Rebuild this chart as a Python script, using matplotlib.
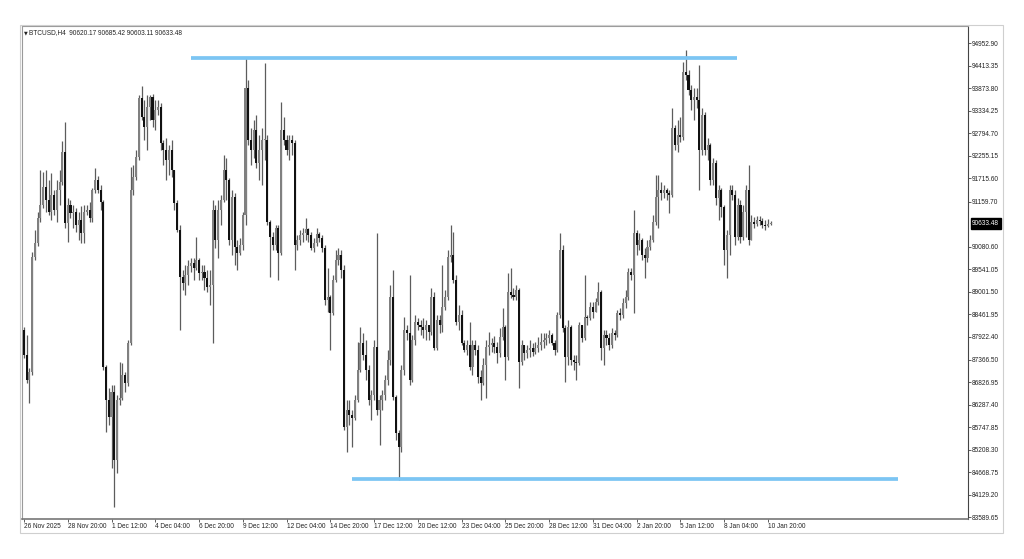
import matplotlib.pyplot as plt
from matplotlib.patches import Rectangle
import numpy as np

# BTCUSD H4 candles (open = previous close)
first_open = 88080
closes = [
    87480, 86880, 87070, 89830, 90170, 90770, 91080, 91510, 91200, 90910,
    91320, 90960, 91440, 91630, 92350, 90650, 91080, 90890, 90910, 90600,
    90720, 90410, 90910, 90960, 90770, 91440, 91680, 91440, 91150, 87190,
    86400, 85990, 86590, 84960, 86400, 86450, 87000, 86810, 87770, 91440,
    91750, 92230, 93650, 93190, 92950, 93430, 93670, 93120, 93360, 93430,
    92570, 92400, 92160, 92400, 91920, 91130, 90480, 89350, 89210, 89400,
    89620, 89690, 89570, 89760, 89450, 89470, 89330, 89110, 89160, 90960,
    90240, 90960, 91200, 91920, 91680, 90240, 91270, 90070, 89930, 90120,
    90840, 93890, 92640, 92400, 92880, 92090, 92400, 92640, 92640, 90670,
    90310, 90120, 90530, 89930, 92880, 92640, 92400, 92640, 92570, 90120,
    90240, 90360, 90410, 90500, 90360, 90050, 90170, 90380, 90290, 90050,
    88800, 88870, 88490, 89280, 89760, 89880, 89520, 85750, 86160, 86040,
    85970, 86400, 87120, 87770, 87480, 87120, 86400, 86520, 87670, 86160,
    86400, 86520, 86880, 87360, 88870, 86470, 85610, 85270, 87120, 88080,
    88010, 86880, 87840, 88270, 88200, 88150, 88080, 88200, 88030, 88870,
    87650, 88320, 88200, 88630, 88870, 89830, 89880, 89280, 88270, 88440,
    87770, 87600, 87720, 87190, 87720, 87600, 86950, 86810, 87240, 87670,
    87720, 87770, 87670, 87530, 87910, 88150, 87430, 88990, 88920, 88870,
    89040, 87310, 87720, 87530, 87600, 87650, 87550, 87650, 87720, 87790,
    87840, 87890, 87960, 87770, 87600, 88440, 90000, 88130, 87430, 88150,
    87360, 87310, 87290, 88200, 87890, 88390, 88370, 88630, 88510, 88750,
    88990, 87650, 87960, 87890, 87720, 88010, 87960, 88490, 88440, 88730,
    88870, 89470, 89400, 90410, 90120, 90240, 89880, 89810, 90070, 90240,
    90670, 91270, 91440, 91370, 91440, 91370, 91320, 92930, 92520, 92760,
    92710, 94270, 94200, 93840, 93600, 93670, 93600, 92400, 93240, 92400,
    92520, 91680, 92090, 91250, 91440, 91030, 90000, 90360, 91440, 91320,
    90310, 91080, 90310, 90910, 91440, 90240, 90670, 90620, 90720, 90700,
    90600, 90580, 90620.17, 90633.48,
]
highs = [
    88150, 87960, 87170, 89950, 90480, 90910, 91920, 91870, 91920, 91680,
    91850, 91440, 91680, 91920, 92620, 93070, 91250, 91200, 91080, 91010,
    90910, 91060, 91080, 91080, 91150, 91490, 91970, 91780, 91560, 91200,
    87240, 86690, 86760, 86760, 86520, 87310, 87290, 87070, 87840, 91990,
    92040, 92400, 93720, 93940, 93600, 93720, 93720, 93740, 93600, 93600,
    93530, 92640, 92690, 92520, 92640, 91920, 91200, 90600, 89520, 89640,
    89760, 89810, 89810, 90310, 89810, 89640, 89640, 89520, 89520, 91200,
    91080, 91200, 91320, 92280, 92210, 91730, 91440, 91370, 90240, 90290,
    90910, 94630, 94080, 92930, 93120, 93240, 92760, 92930, 94490, 92760,
    90720, 90430, 90600, 90600, 93550, 93190, 92760, 92760, 92760, 92640,
    90360, 90480, 90530, 90770, 90530, 90430, 90290, 90530, 90430, 90360,
    90120, 89570, 88920, 89400, 90000, 90050, 90000, 89640, 86400, 86400,
    86160, 86520, 87790, 88150, 88010, 87840, 87240, 86640, 87840, 90410,
    86520, 86640, 87000, 87600, 89160, 89520, 86520, 85680, 87240, 88390,
    88200, 89400, 87960, 88440, 88370, 88320, 88370, 88320, 88200, 89090,
    88990, 88440, 88440, 89640, 89040, 90000, 90600, 90430, 89400, 88680,
    88560, 87840, 87840, 88270, 87840, 87840, 87720, 87120, 87410, 87840,
    88030, 87890, 87940, 87790, 88130, 88610, 88200, 89450, 89570, 89090,
    89160, 89090, 87840, 87720, 87720, 87840, 87770, 87790, 87910, 88010,
    88010, 88010, 88080, 88010, 87840, 88510, 90410, 90120, 88200, 88320,
    88200, 87480, 87480, 88270, 88080, 89400, 88440, 88750, 88750, 88850,
    89230, 89040, 88080, 88080, 88010, 88130, 88080, 88560, 88610, 88850,
    89040, 89570, 89570, 90960, 90480, 90410, 90290, 90050, 90240, 90360,
    90840, 91800, 91800, 91630, 91560, 91490, 91440, 93410, 93000, 93120,
    93190, 94510, 94800, 94320, 93960, 93890, 93890, 94440, 93410, 93310,
    92690, 92570, 92210, 92160, 91560, 91490, 91080, 90480, 91560, 91560,
    91440, 91250, 91200, 91080, 91560, 92040, 90840, 90790, 90820, 90820,
    90770, 90720, 90740, 90685.42,
]
lows = [
    87410, 86810, 86330, 87000, 89760, 90100, 90670, 91010, 90910, 90840,
    90720, 90840, 90670, 91080, 91560, 90530, 90190, 90770, 90530, 90430,
    90240, 90170, 90170, 90840, 90670, 90670, 91370, 91370, 90960, 87120,
    85630, 85800, 84770, 83830, 84650, 86280, 86400, 86590, 86740, 87720,
    91320, 91680, 92160, 93120, 92640, 92400, 93120, 92950, 92880, 93240,
    92400, 92040, 91680, 91800, 91750, 90960, 90430, 88080, 89040, 88920,
    89160, 89470, 89280, 89520, 89280, 89280, 89040, 88990, 88680, 87770,
    90050, 89810, 90600, 91150, 91200, 90120, 89880, 89640, 89520, 89880,
    90000, 90600, 92520, 92040, 92210, 91970, 91680, 91560, 92160, 90600,
    89350, 90000, 90000, 89280, 89880, 92520, 92280, 92160, 92280, 89520,
    90000, 90120, 90190, 90240, 90190, 90000, 89950, 90100, 90190, 89950,
    88680, 88510, 87600, 88440, 89230, 89640, 89330, 85680, 85150, 85800,
    85270, 85920, 86350, 87070, 87360, 86880, 86280, 85920, 86400, 86040,
    85320, 86160, 86400, 86760, 87240, 86400, 85440, 84480, 85150, 87000,
    87840, 86760, 86830, 87720, 88080, 87960, 87890, 87840, 87840, 87960,
    87600, 87600, 88010, 88030, 88560, 88800, 89710, 89210, 88200, 88080,
    87720, 87550, 87480, 87120, 87000, 87480, 86810, 86400, 86760, 86450,
    87480, 87550, 87530, 87290, 87430, 87840, 86880, 87360, 88850, 88800,
    88800, 86690, 87240, 87360, 87410, 87430, 87460, 87500, 87550, 87600,
    87650, 87720, 87770, 87720, 87480, 87550, 88370, 88030, 86830, 87240,
    87240, 87120, 86880, 87240, 87790, 87840, 88200, 88320, 88370, 88560,
    88680, 87360, 87240, 87720, 87600, 87650, 87840, 87910, 88320, 88370,
    88610, 88800, 89280, 88490, 89880, 90000, 89760, 89330, 89710, 90000,
    90190, 90600, 90530, 91200, 91250, 91200, 90890, 91270, 92400, 92350,
    92590, 92640, 94080, 93720, 93360, 93120, 93410, 91440, 92280, 92280,
    92160, 91560, 91560, 91080, 90720, 90790, 89640, 89330, 89880, 91200,
    90120, 90240, 90170, 90240, 90310, 90120, 90430, 90530, 90580, 90600,
    90530, 90480, 90550, 90603.11,
]

x_tick_bars = [0, 16, 32, 48, 64, 80, 96, 112, 128, 144, 160, 176, 192, 208, 224, 240, 256, 272]
x_tick_labels = ["26 Nov 2025", "28 Nov 20:00", "1 Dec 12:00", "4 Dec 04:00", "6 Dec 20:00",
                 "9 Dec 12:00", "12 Dec 04:00", "14 Dec 20:00", "17 Dec 12:00", "20 Dec 12:00",
                 "23 Dec 04:00", "25 Dec 20:00", "28 Dec 12:00", "31 Dec 04:00", "2 Jan 20:00",
                 "5 Jan 12:00", "8 Jan 04:00", "10 Jan 20:00"]
price_labels = ["94952.90", "94413.35", "93873.80", "93334.25", "92794.70", "92255.15",
                "91715.60", "91159.70", "90080.60", "89541.05", "89001.50", "88461.95",
                "87922.40", "87366.50", "86826.95", "86287.40", "85747.85", "85208.30",
                "84668.75", "84129.20", "83589.65"]
last_price = 90633.48

# horizontal levels drawn on the chart: (price, first bar, last bar)
resistance = (94608, 61.1, 260.7)
support = (84500, 119.9, 319.6)

plt.rcParams['font.family'] = ['Liberation Sans', 'DejaVu Sans']

W, H = 1024, 559
fig = plt.figure(figsize=(W / 100, H / 100), dpi=100)
fig.patch.set_facecolor('white')


def fx(px):
    return px / W


def fy(py):
    return 1 - py / H


ax = fig.add_axes([fx(22), fy(519), fx(968) - fx(22), fy(26) - fy(519)])

o = np.array([first_open] + closes[:-1], dtype=float)
c = np.array(closes, dtype=float)
hi = np.maximum(np.array(highs, dtype=float), np.maximum(o, c))
lo = np.minimum(np.array(lows, dtype=float), np.minimum(o, c))
idx = np.arange(len(c))
up = c >= o

ax.vlines(idx, lo, hi, colors='#5c5c5c', linewidth=0.9, zorder=2)
body_bot = np.minimum(o, c)
body_h = np.maximum(np.abs(c - o), 16)
ax.bar(idx[up], body_h[up], bottom=body_bot[up], width=0.75, color='#808080',
       edgecolor='none', zorder=3)
ax.bar(idx[~up], body_h[~up], bottom=body_bot[~up], width=0.75, color='#111111',
       edgecolor='none', zorder=3)

for level in (resistance, support):
    ax.hlines(level[0], level[1], level[2], color='#7cc5f3', linewidth=2.7, zorder=4)

ax.set_xlim(-0.73, 345.2)
ax.set_ylim(83550, 95368)

ax.set_xticks(x_tick_bars)
ax.set_xticklabels(x_tick_labels, ha='left')
ax.tick_params(axis='x', length=2.2, width=0.6, color='#444', pad=0.8,
               labelsize=4.7, labelcolor='#222')

ax.yaxis.tick_right()
ax.set_yticks([float(s) for s in price_labels])
ax.set_yticklabels(price_labels)
ax.tick_params(axis='y', length=2.2, width=0.6, color='#444', pad=0.8,
               labelsize=4.7, labelcolor='#222')

ax.spines['left'].set_color('#9a9a9a')
ax.spines['top'].set_color('#9a9a9a')
ax.spines['right'].set_color('#444444')
ax.spines['bottom'].set_color('#777777')
ax.spines['bottom'].set_linewidth(1.2)
for s in ('left', 'top', 'right'):
    ax.spines[s].set_linewidth(0.8)

ax.annotate(f"{last_price:.2f}", xy=(1, last_price), xycoords=('axes fraction', 'data'),
            xytext=(3.0, 0), textcoords='offset points', va='center', ha='left',
            fontsize=4.7, color='white',
            bbox=dict(boxstyle='square,pad=0.25', fc='black', ec='black'),
            annotation_clip=False)

# outer window frame
fig.add_artist(Rectangle((fx(20.3), fy(533)), fx(1003) - fx(20.3), fy(25) - fy(533),
                         transform=fig.transFigure, fill=False, ec='#cfcfcf', lw=0.8))

fig.text(fx(24), fy(32.5), '\u25bc', fontsize=3.5, va='center', ha='left',
         color='#222', family='DejaVu Sans')
fig.text(fx(29), fy(32.5), 'BTCUSD,H4  90620.17 90685.42 90603.11 90633.48',
         fontsize=4.7, va='center', ha='left', color='#222')

fig.savefig('out.png', dpi=100)
